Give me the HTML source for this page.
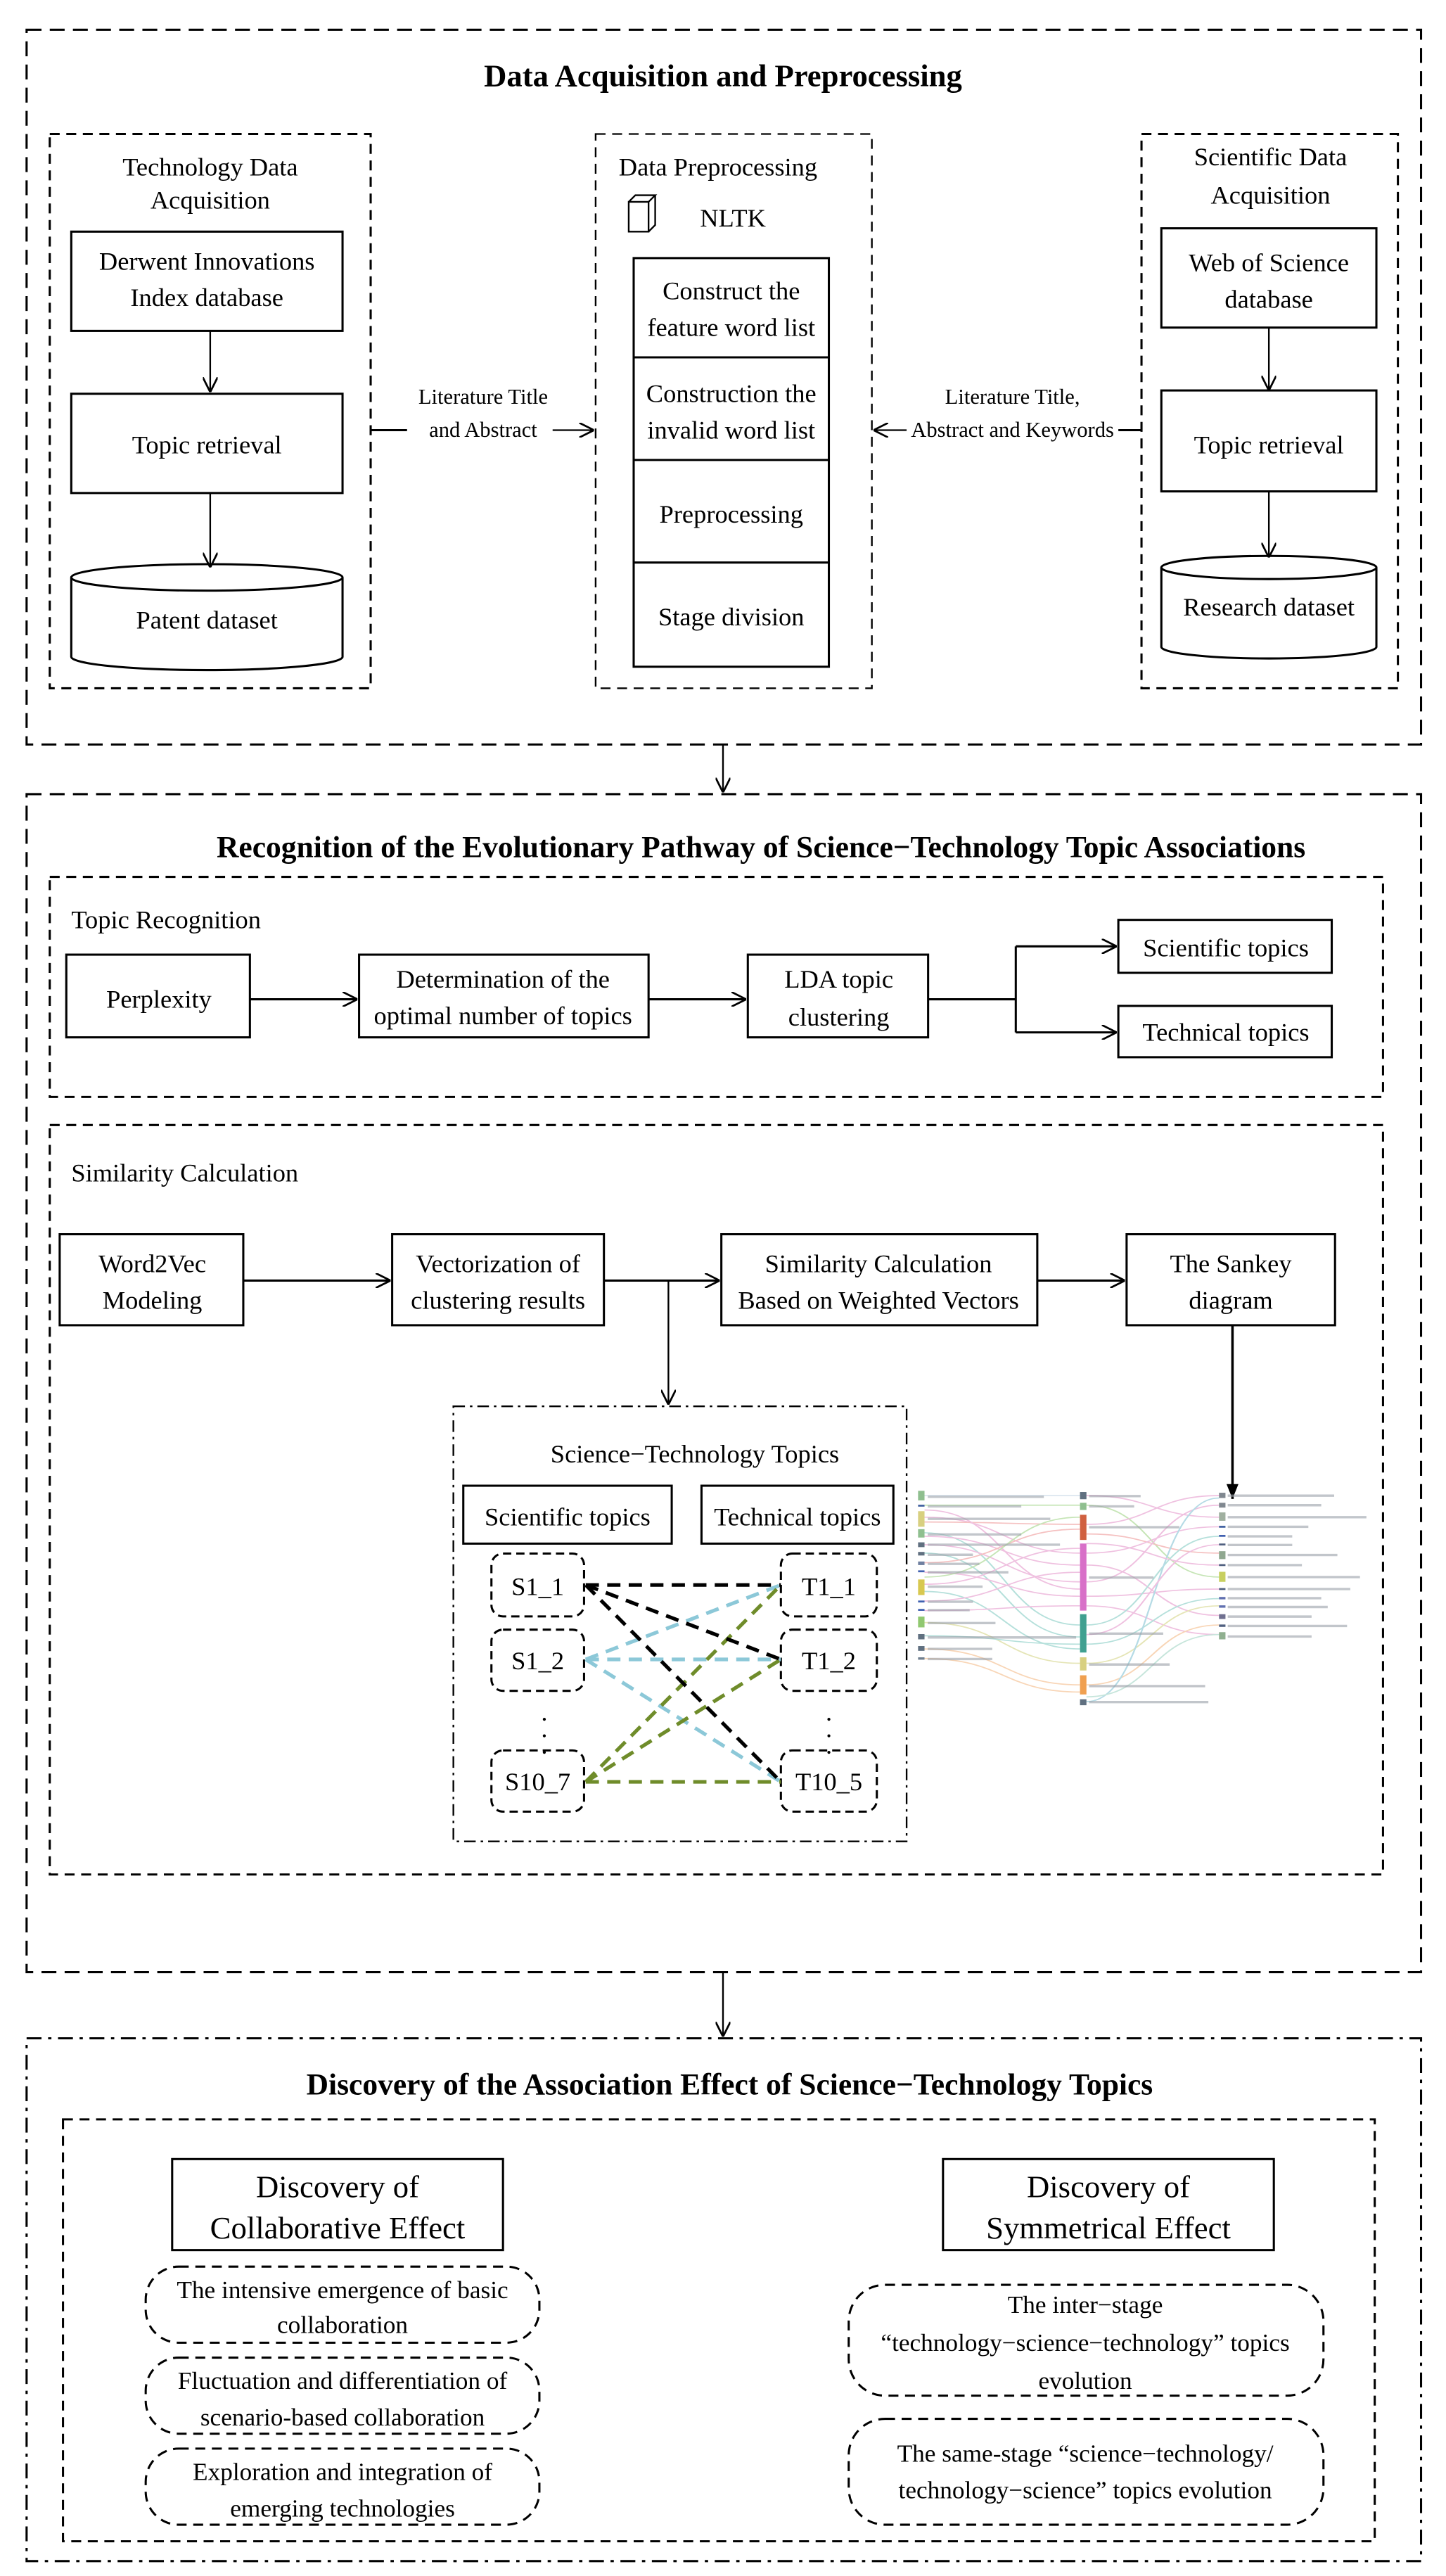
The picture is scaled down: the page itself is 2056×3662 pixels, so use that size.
<!DOCTYPE html>
<html><head><meta charset="utf-8"><style>
html,body{margin:0;padding:0;background:#fff;}
svg{display:block;}
text{font-family:"Liberation Serif",serif;fill:#000;}
</style></head><body>
<svg width="2056" height="3662" viewBox="0 0 874 1557" xmlns="http://www.w3.org/2000/svg">
<defs>
<marker id="a" viewBox="0 0 10 10" refX="10" refY="5" markerWidth="9" markerHeight="9" orient="auto" markerUnits="userSpaceOnUse">
<path d="M0,0 L10,5 L0,10" fill="none" stroke="#000" stroke-width="1.3"/></marker>
<marker id="f" viewBox="0 0 10 10" refX="10" refY="5" markerWidth="9" markerHeight="9" orient="auto" markerUnits="userSpaceOnUse">
<path d="M0,1 L10,5 L0,9 z" fill="#000"/></marker>
</defs>
<rect width="874" height="1557" fill="#fff"/>
<g fill="none" stroke="#000">
<rect x="16" y="18" width="843" height="432" stroke-width="1.3" stroke-dasharray="9,5"/>
<rect x="30" y="81" width="194" height="335" stroke-width="1.3" stroke-dasharray="6,4"/>
<rect x="360" y="81" width="167" height="335" stroke-width="1" stroke-dasharray="6,4"/>
<rect x="690" y="81" width="155" height="335" stroke-width="1.3" stroke-dasharray="6,4"/>
<rect x="43" y="140" width="164" height="60" stroke-width="1.3"/>
<rect x="43" y="238" width="164" height="60" stroke-width="1.3"/>
<path d="M43,349 v48 a82,8 0 0 0 164,0 v-48 a82,8 0 0 0 -164,0 a82,8 0 0 0 164,0" stroke-width="1.3"/>
<line x1="127" y1="200" x2="127" y2="237" marker-end="url(#a)"/>
<line x1="127" y1="298" x2="127" y2="343" marker-end="url(#a)"/>
<rect x="702" y="138" width="130" height="60" stroke-width="1.3"/>
<rect x="702" y="236" width="130" height="61" stroke-width="1.3"/>
<path d="M702,343 v48 a65,7 0 0 0 130,0 v-48 a65,7 0 0 0 -130,0 a65,7 0 0 0 130,0" stroke-width="1.3"/>
<line x1="767" y1="198" x2="767" y2="236" marker-end="url(#a)"/>
<line x1="767" y1="297" x2="767" y2="337" marker-end="url(#a)"/>
<rect x="383" y="156" width="118" height="247" stroke-width="1.3"/>
<line x1="383" y1="216" x2="501" y2="216" stroke-width="1.3"/>
<line x1="383" y1="278" x2="501" y2="278" stroke-width="1.3"/>
<line x1="383" y1="340" x2="501" y2="340" stroke-width="1.3"/>
<path d="M380,122 h12 v18 h-12 z M380,122 l4,-4 h12 l-4,4 M392,140 l4,-4 v-18" stroke-width="1"/>
<line x1="224" y1="260" x2="246" y2="260" stroke-width="1.3"/>
<line x1="334" y1="260" x2="359" y2="260" marker-end="url(#a)"/>
<line x1="690" y1="260" x2="676" y2="260" stroke-width="1.3"/>
<line x1="548" y1="260" x2="528" y2="260" marker-end="url(#a)"/>
<line x1="437" y1="450" x2="437" y2="479" marker-end="url(#a)"/>
<rect x="16" y="480" width="843" height="712" stroke-width="1.3" stroke-dasharray="9,5"/>
<rect x="30" y="530" width="806" height="133" stroke-width="1.3" stroke-dasharray="6,4"/>
<rect x="40" y="577" width="111" height="50" stroke-width="1.3"/>
<rect x="217" y="577" width="175" height="50" stroke-width="1.3"/>
<rect x="452" y="577" width="109" height="50" stroke-width="1.3"/>
<rect x="676" y="556" width="129" height="32" stroke-width="1.3"/>
<rect x="676" y="608" width="129" height="31" stroke-width="1.3"/>
<line x1="151" y1="604" x2="216" y2="604" stroke-width="1.3" marker-end="url(#a)"/>
<line x1="392" y1="604" x2="451" y2="604" stroke-width="1.3" marker-end="url(#a)"/>
<path d="M561,604 H614 M614,572 V624" stroke-width="1.3"/>
<line x1="614" y1="572" x2="675" y2="572" stroke-width="1.3" marker-end="url(#a)"/>
<line x1="614" y1="624" x2="675" y2="624" stroke-width="1.3" marker-end="url(#a)"/>
<rect x="30" y="680" width="806" height="453" stroke-width="1.3" stroke-dasharray="6,4"/>
<rect x="36" y="746" width="111" height="55" stroke-width="1.3"/>
<rect x="237" y="746" width="128" height="55" stroke-width="1.3"/>
<rect x="436" y="746" width="191" height="55" stroke-width="1.3"/>
<rect x="681" y="746" width="126" height="55" stroke-width="1.3"/>
<line x1="147" y1="774" x2="236" y2="774" stroke-width="1.3" marker-end="url(#a)"/>
<line x1="365" y1="774" x2="435" y2="774" stroke-width="1.3" marker-end="url(#a)"/>
<line x1="627" y1="774" x2="680" y2="774" stroke-width="1.3" marker-end="url(#a)"/>
<line x1="404" y1="774" x2="404" y2="849" marker-end="url(#a)"/>
<line x1="745" y1="801" x2="745" y2="906" stroke-width="1.5" marker-end="url(#f)"/>
<rect x="274" y="850" width="274" height="263" stroke-width="1" stroke-dasharray="7,3,1.5,3"/>
<rect x="280" y="898" width="126" height="35" stroke-width="1.3"/>
<rect x="424" y="898" width="116" height="35" stroke-width="1.3"/>
<g stroke-width="1.3" stroke-dasharray="5,3">
<rect x="297" y="939" width="56" height="38" rx="7"/>
<rect x="297" y="985" width="56" height="37" rx="7"/>
<rect x="297" y="1058" width="56" height="37" rx="7"/>
<rect x="472" y="939" width="58" height="38" rx="7"/>
<rect x="472" y="985" width="58" height="37" rx="7"/>
<rect x="472" y="1058" width="58" height="37" rx="7"/>
</g>
<g stroke-width="2.2" stroke-dasharray="8,5">
<g stroke="#8cc8d8"><line x1="354" y1="1003" x2="472" y2="958"/><line x1="354" y1="1003" x2="472" y2="1003"/><line x1="354" y1="1003" x2="472" y2="1077"/></g>
<g stroke="#6f8c2a"><line x1="354" y1="1077" x2="472" y2="958"/><line x1="354" y1="1077" x2="472" y2="1003"/><line x1="354" y1="1077" x2="472" y2="1077"/></g>
<g stroke="#000"><line x1="354" y1="958" x2="472" y2="958"/><line x1="354" y1="958" x2="472" y2="1003"/><line x1="354" y1="958" x2="472" y2="1077"/></g>
</g>
<line x1="437" y1="1192" x2="437" y2="1231" marker-end="url(#a)"/>
<rect x="16" y="1232" width="843" height="316" stroke-width="1.3" stroke-dasharray="9,4,2,4"/>
<rect x="38" y="1281" width="793" height="255" stroke-width="1.3" stroke-dasharray="6,4"/>
<rect x="104" y="1305" width="200" height="55" stroke-width="1.3"/>
<rect x="570" y="1305" width="200" height="55" stroke-width="1.3"/>
<g stroke-width="1.3" stroke-dasharray="6,4">
<rect x="88" y="1370" width="238" height="46" rx="20"/>
<rect x="88" y="1425" width="238" height="46" rx="20"/>
<rect x="88" y="1480" width="238" height="46" rx="20"/>
<rect x="513" y="1381" width="287" height="67" rx="22"/>
<rect x="513" y="1462" width="287" height="64" rx="22"/>
</g>
</g>
<g transform="translate(552,895.3) scale(0.195,0.1448)">
<g fill="none" stroke-width="5" opacity="0.65">
<path d="M35,60 C280,60 280,60 517,60" stroke="#c8d8e8"/>
<path d="M35,100 C280,100 280,100 517,100" stroke="#a8d890"/>
<path d="M35,150 C280,150 280,300 517,300" stroke="#e8a0d0"/>
<path d="M35,170 C280,170 280,180 517,180" stroke="#f0a0a0"/>
<path d="M35,215 C280,215 280,600 517,600" stroke="#8fd0c8"/>
<path d="M35,230 C280,230 280,350 517,350" stroke="#e8a0d0"/>
<path d="M35,265 C280,265 280,420 517,420" stroke="#e8a0d0"/>
<path d="M35,300 C280,300 280,650 517,650" stroke="#8fd0c8"/>
<path d="M35,340 C280,340 280,200 517,200" stroke="#f0a0a0"/>
<path d="M35,380 C280,380 280,480 517,480" stroke="#e8a0d0"/>
<path d="M35,430 C280,430 280,280 517,280" stroke="#e8a0d0"/>
<path d="M35,460 C280,460 280,700 517,700" stroke="#8fd0c8"/>
<path d="M35,500 C280,500 280,380 517,380" stroke="#e8a0d0"/>
<path d="M35,540 C280,540 280,520 517,520" stroke="#e8a0d0"/>
<path d="M35,590 C280,590 280,760 517,760" stroke="#d8d890"/>
<path d="M35,645 C280,645 280,680 517,680" stroke="#8fd0c8"/>
<path d="M35,700 C280,700 280,850 517,850" stroke="#f5c090"/>
<path d="M35,740 C280,740 280,880 517,880" stroke="#f5c090"/>
<path d="M35,120 C280,120 280,450 517,450" stroke="#e8a0d0"/>
<path d="M35,400 C280,400 280,150 517,150" stroke="#a8d890"/>
<path d="M537,60 C740,60 740,150 948,150" stroke="#e8a0d0"/>
<path d="M537,100 C740,100 740,400 948,400" stroke="#a8d890"/>
<path d="M537,180 C740,180 740,60 948,60" stroke="#e8a0d0"/>
<path d="M537,220 C740,220 740,300 948,300" stroke="#f0a0a0"/>
<path d="M537,300 C740,300 740,190 948,190" stroke="#e8a0d0"/>
<path d="M537,350 C740,350 740,560 948,560" stroke="#e8a0d0"/>
<path d="M537,420 C740,420 740,100 948,100" stroke="#e8a0d0"/>
<path d="M537,480 C740,480 740,450 948,450" stroke="#e8a0d0"/>
<path d="M537,520 C740,520 740,640 948,640" stroke="#e8a0d0"/>
<path d="M537,600 C740,600 740,230 948,230" stroke="#8fd0c8"/>
<path d="M537,680 C740,680 740,490 948,490" stroke="#8fd0c8"/>
<path d="M537,760 C740,760 740,520 948,520" stroke="#d8d890"/>
<path d="M537,850 C740,850 740,600 948,600" stroke="#f5c090"/>
<path d="M537,920 C740,920 740,70 948,70" stroke="#8fc8d8"/>
<path d="M537,900 C740,900 740,640 948,640" stroke="#a8d8c8"/>
<path d="M537,640 C740,640 740,265 948,265" stroke="#e8a0d0"/>
<path d="M537,260 C740,260 740,350 948,350" stroke="#e8a0d0"/>
</g>
<g>
<rect x="15" y="40" width="20" height="40" fill="#8fbf8f"/><rect x="15" y="98" width="20" height="8" fill="#4060a0"/>
<rect x="15" y="125" width="20" height="65" fill="#d8d080"/><rect x="15" y="200" width="20" height="35" fill="#8fbf8f"/>
<rect x="15" y="255" width="20" height="20" fill="#607080"/><rect x="15" y="295" width="20" height="15" fill="#607080"/>
<rect x="15" y="335" width="20" height="15" fill="#7080a0"/><rect x="15" y="372" width="20" height="8" fill="#4060b0"/>
<rect x="15" y="410" width="20" height="65" fill="#d8c850"/><rect x="15" y="498" width="20" height="8" fill="#4060b0"/>
<rect x="15" y="533" width="20" height="8" fill="#4060b0"/><rect x="15" y="565" width="20" height="45" fill="#90c870"/>
<rect x="15" y="638" width="20" height="22" fill="#607080"/><rect x="15" y="688" width="20" height="20" fill="#607080"/>
<rect x="15" y="735" width="20" height="10" fill="#708090"/>
<rect x="517" y="45" width="20" height="30" fill="#607080"/><rect x="517" y="90" width="20" height="30" fill="#8fbf8f"/>
<rect x="517" y="140" width="20" height="105" fill="#d06040"/><rect x="517" y="260" width="20" height="280" fill="#d870c8"/>
<rect x="517" y="555" width="20" height="160" fill="#40a090"/><rect x="517" y="735" width="20" height="55" fill="#d8d080"/>
<rect x="517" y="810" width="20" height="80" fill="#f0a050"/><rect x="517" y="910" width="20" height="25" fill="#607080"/>
<rect x="948" y="48" width="20" height="22" fill="#808890"/><rect x="948" y="90" width="20" height="20" fill="#808890"/>
<rect x="948" y="130" width="20" height="35" fill="#a0b0a0"/><rect x="948" y="186" width="20" height="8" fill="#4060a0"/>
<rect x="948" y="224" width="20" height="8" fill="#4060b0"/><rect x="948" y="260" width="20" height="8" fill="#506080"/>
<rect x="948" y="292" width="20" height="33" fill="#90a890"/><rect x="948" y="346" width="20" height="8" fill="#506080"/>
<rect x="948" y="378" width="20" height="42" fill="#c8d060"/><rect x="948" y="446" width="20" height="8" fill="#506080"/>
<rect x="948" y="483" width="20" height="10" fill="#6070b0"/><rect x="948" y="518" width="20" height="10" fill="#6070b0"/>
<rect x="948" y="555" width="20" height="20" fill="#707090"/><rect x="948" y="598" width="20" height="10" fill="#506080"/>
<rect x="948" y="630" width="20" height="30" fill="#90b090"/>
</g>
<g stroke="#9aa0a8" stroke-width="10" opacity="0.6" fill="none">
<path d="M45,65h360M45,105h290M45,157h380M45,222h290M45,265h410M45,307h140M45,345h160M45,380h250M45,440h170M45,503h140M45,538h130M45,592h210M45,652h460M45,700h200M45,742h200"/>
<path d="M545,62h160M545,105h140M545,192h280M545,402h200M545,636h230M545,765h250M545,855h360M545,922h370"/>
<path d="M975,60h330M975,100h290M975,150h430M975,190h250M975,230h200M975,266h200M975,308h340M975,350h230M975,400h410M975,450h380M975,488h290M975,525h310M975,565h260M975,604h370M975,648h260"/>
</g>
</g>
<g font-size="15.5" text-anchor="middle">
<text x="437" y="52" font-size="19" font-weight="bold">Data Acquisition and Preprocessing</text>
<text x="127" y="106">Technology Data</text><text x="127" y="126">Acquisition</text>
<text x="125" y="163">Derwent Innovations</text><text x="125" y="185">Index database</text>
<text x="125" y="274">Topic retrieval</text>
<text x="125" y="380">Patent dataset</text>
<text x="434" y="106">Data Preprocessing</text>
<text x="443" y="137">NLTK</text>
<text x="442" y="181">Construct the</text><text x="442" y="203">feature word list</text>
<text x="442" y="243">Construction the</text><text x="442" y="265">invalid word list</text>
<text x="442" y="316">Preprocessing</text>
<text x="442" y="378">Stage division</text>
<text x="292" y="244" font-size="13">Literature Title</text><text x="292" y="264" font-size="13">and Abstract</text>
<text x="612" y="244" font-size="13">Literature Title,</text><text x="612" y="264" font-size="13">Abstract and Keywords</text>
<text x="768" y="100">Scientific Data</text><text x="768" y="123">Acquisition</text>
<text x="767" y="164">Web of Science</text><text x="767" y="186">database</text>
<text x="767" y="274">Topic retrieval</text>
<text x="767" y="372">Research dataset</text>
<text x="460" y="518" font-size="18.5" font-weight="bold">Recognition of the Evolutionary Pathway of Science−Technology Topic Associations</text>
<text x="43" y="561" text-anchor="start">Topic Recognition</text>
<text x="96" y="609">Perplexity</text>
<text x="304" y="597">Determination of the</text><text x="304" y="619">optimal number of topics</text>
<text x="507" y="597">LDA  topic</text><text x="507" y="620">clustering</text>
<text x="741" y="578">Scientific topics</text><text x="741" y="629">Technical topics</text>
<text x="43" y="714" text-anchor="start">Similarity Calculation</text>
<text x="92" y="769">Word2Vec</text><text x="92" y="791">Modeling</text>
<text x="301" y="769">Vectorization of</text><text x="301" y="791">clustering results</text>
<text x="531" y="769">Similarity Calculation</text><text x="531" y="791">Based on Weighted Vectors</text>
<text x="744" y="769">The Sankey</text><text x="744" y="791">diagram</text>
<text x="420" y="884">Science−Technology Topics</text>
<text x="343" y="922">Scientific topics</text><text x="482" y="922">Technical topics</text>
<text x="325" y="964">S1_1</text><text x="325" y="1009">S1_2</text><text x="325" y="1082">S10_7</text>
<text x="501" y="964">T1_1</text><text x="501" y="1009">T1_2</text><text x="501" y="1082">T10_5</text>
<text x="329" y="1040">.</text><text x="329" y="1050">.</text><text x="329" y="1060">.</text>
<text x="501" y="1040">.</text><text x="501" y="1050">.</text><text x="501" y="1060">.</text>
<text x="441" y="1266" font-size="18.5" font-weight="bold">Discovery of the Association Effect of Science−Technology Topics</text>
<text x="204" y="1328" font-size="19">Discovery of</text><text x="204" y="1353" font-size="19">Collaborative Effect</text>
<text x="670" y="1328" font-size="19">Discovery of</text><text x="670" y="1353" font-size="19">Symmetrical Effect</text>
<text x="207" y="1389" font-size="15">The intensive emergence of basic</text><text x="207" y="1410" font-size="15">collaboration</text>
<text x="207" y="1444" font-size="15">Fluctuation and differentiation of</text><text x="207" y="1466" font-size="15">scenario-based collaboration</text>
<text x="207" y="1499" font-size="15">Exploration and integration of</text><text x="207" y="1521" font-size="15">emerging technologies</text>
<text x="656" y="1398" font-size="15">The inter−stage</text><text x="656" y="1421" font-size="15">“technology−science−technology” topics</text><text x="656" y="1444" font-size="15">evolution</text>
<text x="656" y="1488" font-size="15">The same-stage “science−technology/</text><text x="656" y="1510" font-size="15">technology−science” topics evolution</text>
</g>
</svg>
</body></html>
